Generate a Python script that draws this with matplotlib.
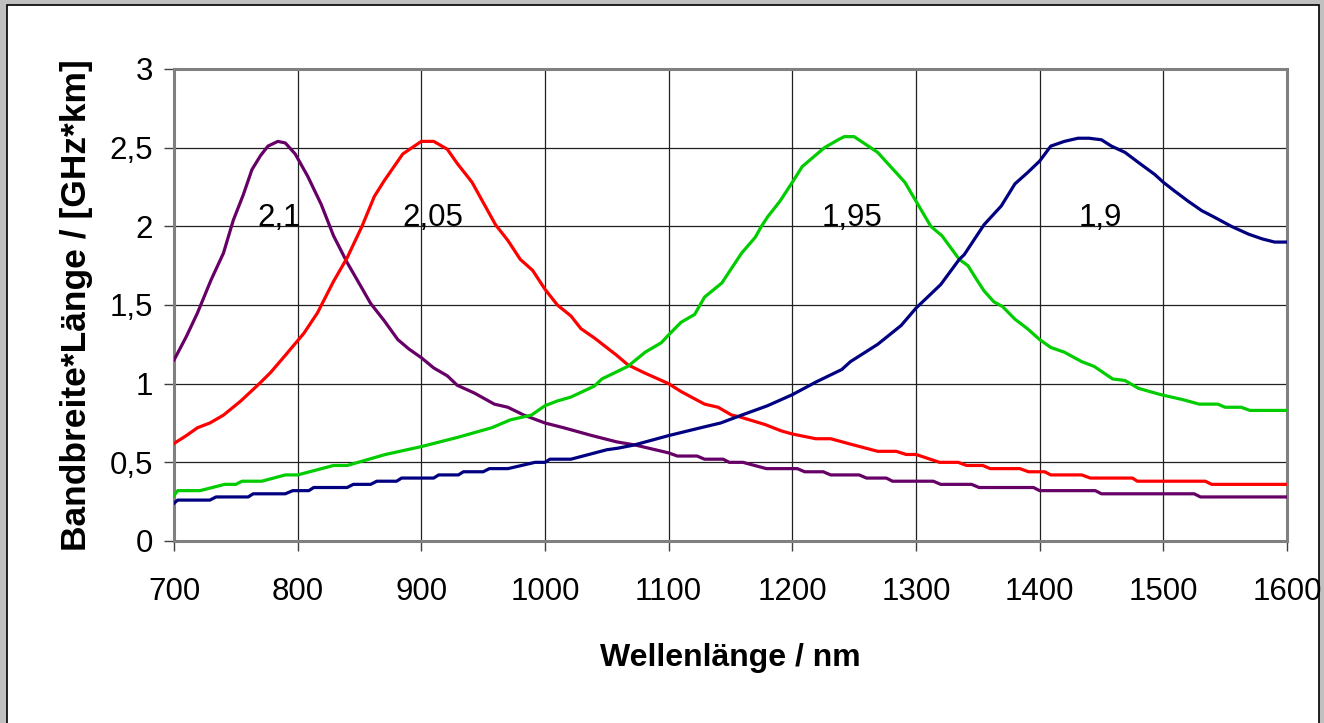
import matplotlib

matplotlib.use("Agg")
import matplotlib.pyplot as plt
from matplotlib.patches import Rectangle

# values (wavelength in nm, bandwidth*length in GHz*km)
wl_21 = [700, 710, 719, 730, 740, 748, 756, 763, 770, 776, 784, 790, 798, 808,
         819, 829, 840, 851, 859, 870, 881, 890, 900, 910, 921, 929, 943, 959,
         970, 983, 1000, 1015, 1038, 1058, 1073, 1100, 1107, 1123, 1129, 1144,
         1149, 1160, 1179, 1204, 1210, 1225, 1231, 1254, 1260, 1276, 1281, 1314,
         1320, 1345, 1351, 1395, 1400, 1445, 1450, 1525, 1530, 1600]
bw_21 = [1.15, 1.30, 1.45, 1.66, 1.83, 2.04, 2.20, 2.36, 2.45, 2.51, 2.54, 2.53,
         2.46, 2.32, 2.14, 1.94, 1.77, 1.62, 1.51, 1.40, 1.28, 1.22, 1.165, 1.10,
         1.05, 0.99, 0.94, 0.87, 0.85, 0.80, 0.75, 0.72, 0.67, 0.63, 0.61, 0.56,
         0.54, 0.54, 0.52, 0.52, 0.50, 0.50, 0.46, 0.46, 0.44, 0.44, 0.42, 0.42,
         0.40, 0.40, 0.38, 0.38, 0.36, 0.36, 0.34, 0.34, 0.32, 0.32, 0.30, 0.30,
         0.28, 0.28]

wl_205 = [700, 710, 719, 729, 740, 754, 769, 778, 790, 805, 816, 829, 840, 852,
          862, 870, 885, 900, 910, 921, 929, 935, 941, 960, 970, 980, 990, 1000,
          1010, 1021, 1029, 1040, 1058, 1067, 1080, 1100, 1110, 1129, 1140, 1151,
          1157, 1178, 1191, 1200, 1219, 1231, 1245, 1269, 1284, 1292, 1300, 1319,
          1334, 1341, 1354, 1360, 1384, 1391, 1404, 1409, 1434, 1441, 1475, 1479,
          1534, 1539, 1600]
bw_205 = [0.62, 0.67, 0.72, 0.75, 0.80, 0.89, 1.00, 1.07, 1.18, 1.32, 1.45, 1.65,
          1.80, 2.00, 2.19, 2.29, 2.46, 2.54, 2.54, 2.49, 2.40, 2.34, 2.28, 2.01,
          1.91, 1.79, 1.72, 1.60, 1.50, 1.43, 1.35, 1.29, 1.18, 1.12, 1.07, 1.00,
          0.95, 0.87, 0.85, 0.80, 0.79, 0.74, 0.70, 0.68, 0.65, 0.65, 0.62, 0.57,
          0.57, 0.55, 0.55, 0.50, 0.50, 0.48, 0.48, 0.46, 0.46, 0.44, 0.44, 0.42,
          0.42, 0.40, 0.40, 0.38, 0.38, 0.36, 0.36]

wl_195 = [700, 703, 721, 741, 750, 755, 771, 790, 800, 829, 840, 871, 900, 930,
          957, 972, 989, 1000, 1010, 1021, 1040, 1046, 1067, 1081, 1094, 1100,
          1110, 1121, 1129, 1143, 1159, 1170, 1175, 1180, 1190, 1200, 1208, 1226,
          1237, 1242, 1250, 1269, 1291, 1300, 1312, 1321, 1335, 1342, 1350, 1355,
          1363, 1370, 1380, 1390, 1400, 1409, 1420, 1434, 1444, 1459, 1469, 1480,
          1498, 1515, 1529, 1544, 1550, 1563, 1570, 1600]
bw_195 = [0.29, 0.32, 0.32, 0.36, 0.36, 0.38, 0.38, 0.42, 0.42, 0.48, 0.48, 0.55,
          0.60, 0.66, 0.72, 0.77, 0.80, 0.86, 0.89, 0.915, 0.985, 1.03, 1.11,
          1.20, 1.26, 1.31, 1.39, 1.44, 1.55, 1.64, 1.83, 1.93, 2.00, 2.06, 2.16,
          2.28, 2.38, 2.50, 2.55, 2.57, 2.57, 2.47, 2.28, 2.16, 2.00, 1.94, 1.79,
          1.75, 1.65, 1.59, 1.52, 1.49, 1.41, 1.35, 1.28, 1.23, 1.20, 1.14, 1.11,
          1.03, 1.02, 0.97, 0.93, 0.90, 0.87, 0.87, 0.85, 0.85, 0.83, 0.83]

wl_19 = [700, 703, 729, 734, 760, 764, 790, 796, 809, 813, 840, 845, 859, 864,
         880, 884, 910, 914, 930, 934, 950, 955, 970, 992, 1000, 1004, 1021, 1050,
         1059, 1072, 1100, 1126, 1142, 1159, 1180, 1200, 1219, 1240, 1247, 1269,
         1288, 1300, 1320, 1335, 1339, 1355, 1369, 1380, 1390, 1400, 1409, 1420,
         1431, 1440, 1450, 1458, 1469, 1480, 1493, 1500, 1509, 1520, 1531, 1542,
         1555, 1569, 1580, 1590, 1600]
bw_19 = [0.24, 0.26, 0.26, 0.28, 0.28, 0.30, 0.30, 0.32, 0.32, 0.34, 0.34, 0.36,
         0.36, 0.38, 0.38, 0.40, 0.40, 0.42, 0.42, 0.44, 0.44, 0.46, 0.46, 0.50,
         0.50, 0.52, 0.52, 0.58, 0.59, 0.61, 0.67, 0.72, 0.75, 0.80, 0.86, 0.93,
         1.01, 1.09, 1.14, 1.25, 1.37, 1.48, 1.63, 1.79, 1.82, 2.01, 2.13, 2.27,
         2.34, 2.415, 2.51, 2.54, 2.56, 2.56, 2.55, 2.51, 2.47, 2.405, 2.33, 2.28,
         2.225, 2.16, 2.10, 2.055, 2.00, 1.95, 1.92, 1.90, 1.90]

curve_labels = ["2,1", "2,05", "1,95", "1,9"]
label_wl = [785, 909, 1248, 1449]
colors = ["#660066", "#ff0000", "#00cc00", "#000080"]

FONT = "Liberation Sans"

fig = plt.figure(figsize=(13.24, 7.23), dpi=100, facecolor="#c0c0c0")

# white chart panel behind the plot
bg = fig.add_axes([0, 0, 1, 1], zorder=-5)
bg.set_axis_off()
bg.set_xlim(0, 1324)
bg.set_ylim(723, 0)
bg.add_patch(Rectangle((7, 5), 1312, 730, facecolor="white",
                       edgecolor="black", lw=1.2))

ax = fig.add_axes([174 / 1324, 182 / 723, 1113 / 1324, 472 / 723], zorder=1)
ax.set_facecolor("white")

series = [(wl_21, bw_21), (wl_205, bw_205), (wl_195, bw_195), (wl_19, bw_19)]
for (x, y), c in zip(series, colors):
    ax.plot(x, y, color=c, lw=2.3, solid_joinstyle="round", zorder=3)

for lab, xw in zip(curve_labels, label_wl):
    ax.text(xw, 2.0, lab, ha="center", va="baseline", fontsize=22.5,
            family=FONT, zorder=4)

ax.set_xlim(700, 1600)
ax.set_ylim(0, 3)
ax.set_xticks(range(700, 1601, 100))
ax.set_yticks([0, 0.5, 1, 1.5, 2, 2.5, 3])
ax.set_yticklabels(["0", "0,5", "1", "1,5", "2", "2,5", "3"])
ax.grid(True, color="#202020", lw=0.9)
ax.set_axisbelow(True)
for s in ax.spines.values():
    s.set_color("#808080")
    s.set_linewidth(2.2)
ax.tick_params(axis="both", direction="out", length=7, width=1, color="#404040",
               labelsize=22.5)
ax.tick_params(axis="x", pad=19)
ax.tick_params(axis="y", pad=8)
for t in ax.get_xticklabels() + ax.get_yticklabels():
    t.set_family(FONT)

ax.set_xlabel("Wellenlänge / nm", fontsize=23, fontweight="bold", family=FONT,
              labelpad=26)
ax.set_ylabel("Bandbreite*Länge / [GHz*km]", fontsize=25.5, fontweight="bold",
              family=FONT, labelpad=12)

fig.savefig("out.png", dpi=100, facecolor=fig.get_facecolor())
